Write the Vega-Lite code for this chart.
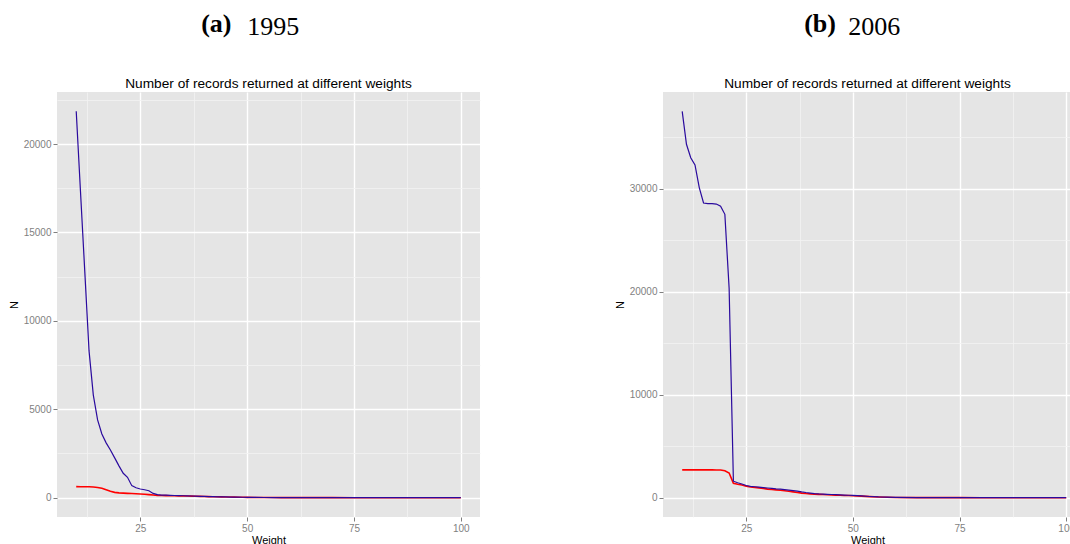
{
  "$schema": "https://vega.github.io/schema/vega-lite/v6.json",
  "background": "white",
  "padding": {"left": 8, "top": 11, "right": -2, "bottom": 0},
  "datasets": {
    "y1995": [
      {"weight": 10, "total": 21850, "distinct": 625},
      {"weight": 11, "total": 17300, "distinct": 622},
      {"weight": 12, "total": 12800, "distinct": 618},
      {"weight": 13, "total": 8300, "distinct": 614},
      {"weight": 14, "total": 5800, "distinct": 605},
      {"weight": 15, "total": 4400, "distinct": 580},
      {"weight": 16, "total": 3600, "distinct": 530},
      {"weight": 17, "total": 3100, "distinct": 450},
      {"weight": 18, "total": 2700, "distinct": 360},
      {"weight": 19, "total": 2250, "distinct": 300},
      {"weight": 20, "total": 1800, "distinct": 272},
      {"weight": 21, "total": 1380, "distinct": 257},
      {"weight": 22, "total": 1150, "distinct": 246},
      {"weight": 23, "total": 680, "distinct": 236},
      {"weight": 24, "total": 560, "distinct": 222},
      {"weight": 25, "total": 490, "distinct": 210},
      {"weight": 26, "total": 450, "distinct": 192},
      {"weight": 27, "total": 390, "distinct": 172},
      {"weight": 28, "total": 240, "distinct": 148},
      {"weight": 29, "total": 170, "distinct": 128},
      {"weight": 30, "total": 150, "distinct": 120},
      {"weight": 31, "total": 140, "distinct": 116},
      {"weight": 32, "total": 130, "distinct": 112},
      {"weight": 33, "total": 124, "distinct": 108},
      {"weight": 34, "total": 118, "distinct": 104},
      {"weight": 35, "total": 110, "distinct": 100},
      {"weight": 36, "total": 102, "distinct": 95},
      {"weight": 37, "total": 94, "distinct": 88},
      {"weight": 38, "total": 86, "distinct": 81},
      {"weight": 39, "total": 78, "distinct": 74},
      {"weight": 40, "total": 70, "distinct": 67},
      {"weight": 41, "total": 63, "distinct": 61},
      {"weight": 42, "total": 57, "distinct": 55},
      {"weight": 43, "total": 51, "distinct": 49},
      {"weight": 44, "total": 46, "distinct": 44},
      {"weight": 45, "total": 41, "distinct": 39},
      {"weight": 46, "total": 37, "distinct": 35},
      {"weight": 47, "total": 33, "distinct": 31},
      {"weight": 48, "total": 29, "distinct": 27},
      {"weight": 49, "total": 25, "distinct": 23},
      {"weight": 50, "total": 21, "distinct": 19},
      {"weight": 52, "total": 15, "distinct": 14},
      {"weight": 54, "total": 11, "distinct": 10},
      {"weight": 56, "total": 8, "distinct": 7},
      {"weight": 58, "total": 6, "distinct": 5},
      {"weight": 60, "total": 4, "distinct": 4},
      {"weight": 65, "total": 2, "distinct": 2},
      {"weight": 70, "total": 1, "distinct": 1},
      {"weight": 75, "total": 1, "distinct": 0},
      {"weight": 80, "total": 0, "distinct": 0},
      {"weight": 90, "total": 0, "distinct": 0},
      {"weight": 100, "total": 0, "distinct": 0}
    ],
    "y2006": [
      {"weight": 10, "total": 37500, "distinct": 2700},
      {"weight": 11, "total": 34300, "distinct": 2700},
      {"weight": 12, "total": 33000, "distinct": 2700},
      {"weight": 13, "total": 32300, "distinct": 2700},
      {"weight": 14, "total": 30100, "distinct": 2700},
      {"weight": 15, "total": 28600, "distinct": 2700},
      {"weight": 16, "total": 28550, "distinct": 2700},
      {"weight": 17, "total": 28550, "distinct": 2700},
      {"weight": 18, "total": 28500, "distinct": 2690},
      {"weight": 19, "total": 28300, "distinct": 2680},
      {"weight": 20, "total": 27500, "distinct": 2620},
      {"weight": 21, "total": 20300, "distinct": 2400},
      {"weight": 22, "total": 1600, "distinct": 1400},
      {"weight": 23, "total": 1450, "distinct": 1300},
      {"weight": 24, "total": 1330, "distinct": 1230},
      {"weight": 25, "total": 1180, "distinct": 1120},
      {"weight": 26, "total": 1100, "distinct": 1040},
      {"weight": 27, "total": 1060, "distinct": 1000},
      {"weight": 28, "total": 1020, "distinct": 950},
      {"weight": 29, "total": 980, "distinct": 900},
      {"weight": 30, "total": 940, "distinct": 830},
      {"weight": 31, "total": 900, "distinct": 790},
      {"weight": 32, "total": 860, "distinct": 760},
      {"weight": 33, "total": 830, "distinct": 720},
      {"weight": 34, "total": 790, "distinct": 680},
      {"weight": 35, "total": 740, "distinct": 620},
      {"weight": 36, "total": 690, "distinct": 560},
      {"weight": 37, "total": 630, "distinct": 500},
      {"weight": 38, "total": 560, "distinct": 440},
      {"weight": 39, "total": 500, "distinct": 400},
      {"weight": 40, "total": 450, "distinct": 370},
      {"weight": 41, "total": 400, "distinct": 345},
      {"weight": 42, "total": 365, "distinct": 325},
      {"weight": 43, "total": 345, "distinct": 305},
      {"weight": 44, "total": 330, "distinct": 285},
      {"weight": 45, "total": 310, "distinct": 265},
      {"weight": 46, "total": 290, "distinct": 248},
      {"weight": 47, "total": 270, "distinct": 232},
      {"weight": 48, "total": 250, "distinct": 218},
      {"weight": 49, "total": 235, "distinct": 205},
      {"weight": 50, "total": 220, "distinct": 190},
      {"weight": 52, "total": 175, "distinct": 150},
      {"weight": 54, "total": 115, "distinct": 100},
      {"weight": 56, "total": 70, "distinct": 60},
      {"weight": 58, "total": 45, "distinct": 38},
      {"weight": 60, "total": 30, "distinct": 22},
      {"weight": 65, "total": 12, "distinct": 8},
      {"weight": 70, "total": 4, "distinct": 3},
      {"weight": 75, "total": 2, "distinct": 1},
      {"weight": 80, "total": 1, "distinct": 0},
      {"weight": 90, "total": 0, "distinct": 0},
      {"weight": 100, "total": 0, "distinct": 0}
    ]
  },
  "hconcat": [
    {
      "title": {"text": "(a)", "font": "Liberation Serif", "fontSize": 26, "fontWeight": "bold", "color": "black", "anchor": "start", "baseline": "bottom", "dx": 193, "offset": -49},
      "vconcat": [
        {
          "title": {"text": "1995", "font": "Liberation Serif", "fontSize": 26, "fontWeight": "normal", "color": "black", "anchor": "start", "baseline": "bottom", "dx": 239, "offset": 11},
          "vconcat": [
            {
              "width": 423,
              "height": 425,
              "title": {"text": "Number of records returned at different weights"},
              "data": {"name": "y1995"},
              "encoding": {
                "x": {
                  "field": "weight",
                  "type": "quantitative",
                  "title": "Weight",
                  "scale": {"domain": [5.5, 104.5], "nice": false, "zero": false},
                  "axis": {
                    "values": [12.5, 25, 37.5, 50, 62.5, 75, 87.5, 100],
                    "labelExpr": "datum.value % 25 === 0 ? datum.label : ''",
                    "gridColor": {"condition": {"test": "datum.value % 25 === 0", "value": "#FFFFFF"}, "value": "#F2F2F2"},
                    "gridWidth": {"condition": {"test": "datum.value % 25 === 0", "value": 1.4}, "value": 0.8},
                    "tickOpacity": {"condition": {"test": "datum.value % 25 === 0", "value": 1}, "value": 0}
                  }
                }
              },
              "layer": [
                {
                  "mark": {"type": "line", "color": "#FF0000", "strokeWidth": 1.6},
                  "encoding": {
                    "y": {
                      "field": "distinct",
                      "type": "quantitative",
                      "title": "N",
                      "scale": {"domain": [-1092.5, 22942.5], "nice": false, "zero": false},
                      "axis": {
                        "values": [0, 2500, 5000, 7500, 10000, 12500, 15000, 17500, 20000, 22500],
                        "format": "d",
                        "labelExpr": "datum.value % 5000 === 0 ? datum.label : ''",
                        "gridColor": {"condition": {"test": "datum.value % 5000 === 0", "value": "#FFFFFF"}, "value": "#F2F2F2"},
                        "gridWidth": {"condition": {"test": "datum.value % 5000 === 0", "value": 1.4}, "value": 0.8},
                        "tickOpacity": {"condition": {"test": "datum.value % 5000 === 0", "value": 1}, "value": 0}
                      }
                    }
                  }
                },
                {
                  "mark": {"type": "line", "color": "#2A0A9E", "strokeWidth": 1.2},
                  "encoding": {
                    "y": {
                      "field": "total",
                      "type": "quantitative",
                      "title": "N"
                    }
                  }
                }
              ]
            }
          ]
        }
      ]
    },
    {
      "title": {"text": "(b)", "font": "Liberation Serif", "fontSize": 26, "fontWeight": "bold", "color": "black", "anchor": "start", "baseline": "bottom", "dx": 190, "offset": -49},
      "vconcat": [
        {
          "title": {"text": "2006", "font": "Liberation Serif", "fontSize": 26, "fontWeight": "normal", "color": "black", "anchor": "start", "baseline": "bottom", "dx": 234, "offset": 11},
          "vconcat": [
            {
              "width": 409,
              "height": 425,
              "title": {"text": "Number of records returned at different weights"},
              "data": {"name": "y2006"},
              "encoding": {
                "x": {
                  "field": "weight",
                  "type": "quantitative",
                  "title": "Weight",
                  "scale": {"domain": [5.5, 101.36], "nice": false, "zero": false},
                  "axis": {
                    "values": [12.5, 25, 37.5, 50, 62.5, 75, 87.5, 100],
                    "labelExpr": "datum.value % 25 === 0 ? datum.label : ''",
                    "gridColor": {"condition": {"test": "datum.value % 25 === 0", "value": "#FFFFFF"}, "value": "#F2F2F2"},
                    "gridWidth": {"condition": {"test": "datum.value % 25 === 0", "value": 1.4}, "value": 0.8},
                    "tickOpacity": {"condition": {"test": "datum.value % 25 === 0", "value": 1}, "value": 0}
                  }
                }
              },
              "layer": [
                {
                  "mark": {"type": "line", "color": "#FF0000", "strokeWidth": 1.6},
                  "encoding": {
                    "y": {
                      "field": "distinct",
                      "type": "quantitative",
                      "title": "N",
                      "scale": {"domain": [-1875, 39375], "nice": false, "zero": false},
                      "axis": {
                        "values": [0, 5000, 10000, 15000, 20000, 25000, 30000, 35000],
                        "format": "d",
                        "labelExpr": "datum.value % 10000 === 0 ? datum.label : ''",
                        "gridColor": {"condition": {"test": "datum.value % 10000 === 0", "value": "#FFFFFF"}, "value": "#F2F2F2"},
                        "gridWidth": {"condition": {"test": "datum.value % 10000 === 0", "value": 1.4}, "value": 0.8},
                        "tickOpacity": {"condition": {"test": "datum.value % 10000 === 0", "value": 1}, "value": 0}
                      }
                    }
                  }
                },
                {
                  "mark": {"type": "line", "color": "#2A0A9E", "strokeWidth": 1.2},
                  "encoding": {
                    "y": {
                      "field": "total",
                      "type": "quantitative",
                      "title": "N"
                    }
                  }
                }
              ]
            }
          ]
        }
      ]
    }
  ],
  "spacing": 134,
  "config": {
    "view": {"fill": "#E5E5E5", "stroke": null},
    "title": {"font": "Liberation Sans", "fontSize": 13.7, "fontWeight": "normal", "color": "black", "anchor": "middle", "offset": 1},
    "concat": {"spacing": 0},
    "axis": {
      "domain": false,
      "labelFont": "Liberation Sans",
      "labelFontSize": 10,
      "labelColor": "#7F7F7F",
      "labelPadding": 2,
      "labelOverlap": false,
      "tickColor": "#7F7F7F",
      "tickSize": 4,
      "tickWidth": 1,
      "titleFont": "Liberation Sans",
      "titleFontSize": 11,
      "titleFontWeight": "normal",
      "titleColor": "black"
    },
    "axisY": {"titlePadding": 4},
    "axisX": {"titlePadding": 1}
  }
}
